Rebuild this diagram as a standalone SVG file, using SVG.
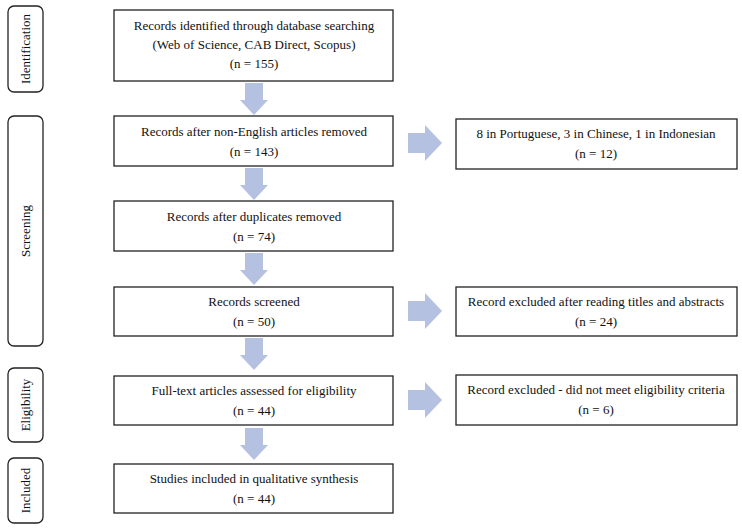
<svg xmlns="http://www.w3.org/2000/svg" width="742" height="531" viewBox="0 0 742 531">
<defs>
<style>
.box{fill:#fff;stroke:#222;stroke-width:1.3}
.side{fill:#fff;stroke:#222;stroke-width:1.3}
.t{font-family:"Liberation Serif","Times New Roman",serif;font-size:13px;fill:#111;text-anchor:middle}
.arr{fill:#b4c1e1}
</style>
<path id="down" class="arr" d="M-9,0 H9 V17 H14 L0,32 L-14,17 H-9 Z"/>
<path id="right" class="arr" d="M0,-10 H17 V-18 L34,0 L17,18 V10 H0 Z"/>
</defs>
<rect width="742" height="531" fill="#fff"/>
<g id="side-identification"><rect class="side" x="8" y="6" width="35" height="86" rx="6"/><text class="t" transform="translate(30,49) rotate(-90)">Identification</text></g>
<g id="side-screening"><rect class="side" x="8" y="116" width="35" height="230" rx="6"/><text class="t" transform="translate(30,231) rotate(-90)">Screening</text></g>
<g id="side-eligibility"><rect class="side" x="8" y="368" width="35" height="74" rx="6"/><text class="t" transform="translate(30,405) rotate(-90)">Eligibility</text></g>
<g id="side-included"><rect class="side" x="8" y="458" width="35" height="65" rx="6"/><text class="t" transform="translate(30,490.5) rotate(-90)">Included</text></g>
<g id="connectors">
<use href="#down" x="254" y="83"/>
<use href="#down" x="254" y="168"/>
<use href="#down" x="254" y="253"/>
<use href="#down" x="254" y="338"/>
<use href="#down" x="254" y="428"/>
<use href="#right" x="408" y="143"/>
<use href="#right" x="408" y="311"/>
<use href="#right" x="408" y="400"/>
</g>
<g id="n1"><rect class="box" x="114" y="10" width="279" height="71"/><text class="t" x="254" y="30">Records identified through database searching</text><text class="t" x="254" y="49">(Web of Science, CAB Direct, Scopus)</text><text class="t" x="254" y="68">(n = 155)</text></g>
<g id="n2"><rect class="box" x="114" y="116" width="279" height="50"/><text class="t" x="254" y="136">Records after non-English articles removed</text><text class="t" x="254" y="156">(n = 143)</text></g>
<g id="n3"><rect class="box" x="114" y="201" width="279" height="50"/><text class="t" x="254" y="221">Records after duplicates removed</text><text class="t" x="254" y="241">(n = 74)</text></g>
<g id="n4"><rect class="box" x="114" y="287" width="279" height="49"/><text class="t" x="254" y="306">Records screened</text><text class="t" x="254" y="326">(n = 50)</text></g>
<g id="n5"><rect class="box" x="114" y="376" width="279" height="49"/><text class="t" x="254" y="395">Full-text articles assessed for eligibility</text><text class="t" x="254" y="415">(n = 44)</text></g>
<g id="n6"><rect class="box" x="114" y="464" width="279" height="49"/><text class="t" x="254" y="483">Studies included in qualitative synthesis</text><text class="t" x="254" y="503">(n = 44)</text></g>
<g id="r1"><rect class="box" x="456" y="119" width="281" height="50"/><text class="t" x="596" y="138">8 in Portuguese, 3 in Chinese, 1 in Indonesian</text><text class="t" x="596" y="158">(n = 12)</text></g>
<g id="r2"><rect class="box" x="456" y="287" width="281" height="49"/><text class="t" x="596" y="306">Record excluded after reading titles and abstracts</text><text class="t" x="596" y="326">(n = 24)</text></g>
<g id="r3"><rect class="box" x="456" y="375" width="281" height="50"/><text class="t" x="596" y="394">Record excluded - did not meet eligibility criteria</text><text class="t" x="596" y="414">(n = 6)</text></g>
</svg>
